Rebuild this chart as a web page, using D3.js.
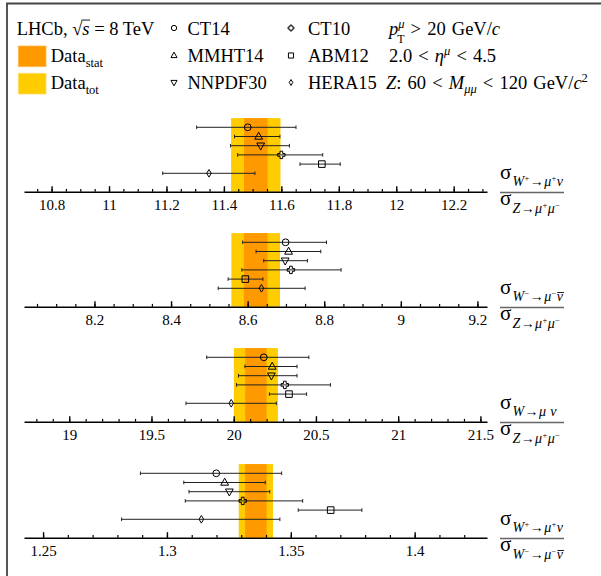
<!DOCTYPE html>
<html>
<head>
<meta charset="utf-8">
<script src="https://cdn.jsdelivr.net/npm/d3@7/dist/d3.min.js"></script>
<style>
  body { margin: 0; background: #fff; }
  svg { display: block; }
  svg text { font-family: "Liberation Serif", "Times New Roman", serif; fill: #000; }
</style>
</head>
<body>
<svg id="chart" width="601" height="576"></svg>
<script>
// ---- PDF sets compared to the measurement (top to bottom in each panel)
const pdfSets = ["CT14", "MMHT14", "NNPDF30", "CT10", "ABM12", "HERA15"];

// ---- Ratio names
const ratios = ["WpZ", "WmZ", "WZ", "WpWm"];

// ---- LHCb measurement: central value, statistical and total uncertainty
const dataCentral = [11.511, 8.621, 20.135, 1.3359];
const dataStat    = [0.041, 0.031, 0.065, 0.00435];
const dataTot     = [0.086, 0.0635, 0.134, 0.0069];

// ---- Theory predictions (central, lower edge, upper edge), order as pdfSets
const thWpZ    = [11.483, 11.521, 11.528, 11.600, 11.741, 11.348];
const thWpZLo  = [11.305, 11.437, 11.423, 11.448, 11.665, 11.187];
const thWpZHi  = [11.651, 11.595, 11.628, 11.744, 11.805, 11.508];

const thWmZ    = [8.699, 8.707, 8.698, 8.713, 8.594, 8.636];
const thWmZLo  = [8.587, 8.622, 8.642, 8.585, 8.549, 8.523];
const thWmZHi  = [8.806, 8.791, 8.756, 8.844, 8.640, 8.750];

const thWZ     = [20.183, 20.234, 20.229, 20.311, 20.336, 19.985];
const thWZLo   = [19.836, 20.068, 20.029, 20.017, 20.217, 19.710];
const thWZHi   = [20.457, 20.385, 20.385, 20.588, 20.443, 20.259];

const thWpWm   = [1.3199, 1.3233, 1.3252, 1.3306, 1.3661, 1.3139];
const thWpWmLo = [1.2893, 1.3068, 1.3089, 1.3074, 1.3530, 1.2817];
const thWpWmHi = [1.3463, 1.3397, 1.3415, 1.3548, 1.3787, 1.3456];

// ---- Axis ranges and labelled ticks
const domainWpZ  = [10.704, 12.316];
const domainWmZ  = [8.016, 9.225];
const domainWZ   = [18.725, 21.540];
const domainWpWm = [1.2423, 1.4292];

const ticksWpZ  = [10.8, 11, 11.2, 11.4, 11.6, 11.8, 12, 12.2];
const ticksWmZ  = [8.2, 8.4, 8.6, 8.8, 9, 9.2];
const ticksWZ   = [19, 19.5, 20, 20.5, 21, 21.5];
const ticksWpWm = [1.25, 1.3, 1.35, 1.4];
const minorSteps = [0.05, 0.05, 0.1, 0.01];

// ---- Text
const legendTitle = [{t: "LHCb, "}, {t: "\u221A"}, {t: "s", it: true, bar: true}, {t: " = 8 TeV"}];
const cutLines = [
  [{t: "p", it: true}, {t: "\u03BC", it: true, size: 12.5, shift: -7}, {t: "T", size: 12, shift: 8.3, dx: -7.4}, {t: " > 20 GeV/"}, {t: "c", it: true}],
  [{t: "2.0 < "}, {t: "\u03B7", it: true}, {t: "\u03BC", it: true, size: 12.5, shift: -7}, {t: " < 4.5"}],
  [{t: "Z", it: true}, {t: ": 60 < "}, {t: "M", it: true}, {t: "\u03BC\u03BC", it: true, size: 12.5, shift: 4}, {t: " < 120 GeV/"}, {t: "c", it: true}, {t: "2", size: 12.5, shift: -7}]
];
const cutX = [389, 389, 386];

const supP = {size: 8.5, shift: -5};
const subWp = [{t: "W", it: true}, Object.assign({t: "+"}, supP), {t: "\u2192"}, {t: "\u03BC", it: true}, Object.assign({t: "+"}, supP), {t: "\u03BD", it: true}];
const subWm = [{t: "W", it: true}, Object.assign({t: "\u2212"}, supP), {t: "\u2192"}, {t: "\u03BC", it: true}, Object.assign({t: "\u2212"}, supP), {t: "\u03BD", it: true, bar: true}];
const subW  = [{t: "W", it: true}, {t: "\u2192"}, {t: "\u03BC", it: true}, {t: " "}, {t: "\u03BD", it: true}];
const subZ  = [{t: "Z", it: true}, {t: "\u2192"}, {t: "\u03BC", it: true}, Object.assign({t: "+"}, supP), {t: "\u03BC", it: true}, Object.assign({t: "\u2212"}, supP)];

const numerators   = [subWp, subWm, subW, subWp];
const denominators = [subZ, subZ, subZ, subWm];

const theory = [
  [thWpZ, thWpZLo, thWpZHi],
  [thWmZ, thWmZLo, thWmZHi],
  [thWZ, thWZLo, thWZHi],
  [thWpWm, thWpWmLo, thWpWmHi]
];
const domains = [domainWpZ, domainWmZ, domainWZ, domainWpWm];
const majorTicks = [ticksWpZ, ticksWmZ, ticksWZ, ticksWpWm];

// ---- Layout
const X0 = 24, X1 = 487;
const axisYs = [191.7, 306.7, 421.7, 537.7];
const bandHeight = 73.6;
const colStat = "#FF9900", colTot = "#FFCC00";
const SERIF = '"Liberation Serif", "Times New Roman", serif';

const svg = d3.select("#chart");

// frame (only its top and left edges fall inside the page)
svg.append("path")
  .attr("d", `M7,576 V3.5 H601`)
  .attr("fill", "none").attr("stroke", "#444").attr("stroke-width", 1.8);

// ---- marker shapes
function markerPath(k, s = 1) {
  const p = (pts) => "M" + pts.map(q => [q[0] * s, q[1] * s].join(",")).join("L") + "Z";
  switch (k) {
    case 0: { const r = 3.4 * s; return `M${-r},0A${r},${r} 0 1,0 ${r},0A${r},${r} 0 1,0 ${-r},0Z`; }
    case 1: return p([[0, -4.3], [3.9, 2.7], [-3.9, 2.7]]);
    case 2: return p([[0, 4.3], [3.9, -2.7], [-3.9, -2.7]]);
    case 3: { const a = 3.7, w = 1.35;
      return p([[-w, -a], [w, -a], [w, -w], [a, -w], [a, w], [w, w], [w, a], [-w, a], [-w, w], [-a, w], [-a, -w], [-w, -w]]); }
    case 4: return p([[-3.3, -3.3], [3.3, -3.3], [3.3, 3.3], [-3.3, 3.3]]);
    case 5: return p([[0, -3.8], [2.3, 0], [0, 3.8], [-2.3, 0]]);
  }
}

// ---- rich text helper: parts flow left to right with baseline shifts
function rich(g, x, y, parts, size, opts = {}) {
  const t = g.append("text").attr("x", x).attr("y", y)
    .style("font-family", SERIF).style("font-size", size + "px")
    .style("white-space", "pre");
  if (opts.spacing) t.style("letter-spacing", opts.spacing + "px");
  if (opts.wordSpacing) t.style("word-spacing", opts.wordSpacing + "px");
  let prev = 0;
  parts.forEach(p => {
    const s = p.shift || 0;
    const ts = t.append("tspan").attr("dy", s - prev).text(p.t);
    if (p.dx) ts.attr("dx", p.dx);
    if (p.size) ts.style("font-size", p.size + "px");
    if (p.it) ts.style("font-style", "italic");
    prev = s;
  });
  // overlines
  const node = t.node();
  let idx = 0;
  parts.forEach(p => {
    if (p.bar) {
      const a = node.getStartPositionOfChar(idx);
      const b = node.getEndPositionOfChar(idx + p.t.length - 1);
      const fs = p.size || size;
      const yy = y + (p.shift || 0) - fs * (opts.barRise || 0.62);
      g.append("line").attr("x1", a.x + (opts.barPadL || 0.5)).attr("x2", b.x + 0.5)
        .attr("y1", yy).attr("y2", yy).attr("stroke", "#000").attr("stroke-width", 0.9);
    }
    idx += p.t.length;
  });
  return t;
}

// ---- legend
const lg = svg.append("g");
rich(lg, 16.7, 34.5, legendTitle, 18.5, {barRise: 0.78, barPadL: -1});
lg.append("rect").attr("x", 18.3).attr("y", 46).attr("width", 27.7).attr("height", 20.7)
  .attr("fill", colStat).attr("stroke", "#FFB84D").attr("stroke-width", 0.8);
lg.append("rect").attr("x", 18.3).attr("y", 73.3).attr("width", 27.7).attr("height", 20.7)
  .attr("fill", colTot).attr("stroke", "#FFDD66").attr("stroke-width", 0.8);
rich(lg, 50.7, 62, [{t: "Data"}, {t: "stat", size: 12.5, shift: 4.5}], 18.5);
rich(lg, 50.7, 89, [{t: "Data"}, {t: "tot", size: 12.5, shift: 4.5}], 18.5);

const legendRows = [34.5, 62, 89];
pdfSets.forEach((name, i) => {
  const col = Math.floor(i / 3), row = i % 3;
  const mx = col === 0 ? 174 : 291;
  const tx = col === 0 ? 187.5 : 308;
  lg.append("path").attr("d", markerPath(i, 0.78))
    .attr("transform", `translate(${mx},${legendRows[row] - 6.5})`)
    .attr("fill", "none").attr("stroke", "#000").attr("stroke-width", 1);
  rich(lg, tx, legendRows[row], [{t: name}], 18.5);
});
cutLines.forEach((parts, r) => {
  rich(lg, cutX[r], legendRows[r], parts, 18.5, {wordSpacing: 1.5});
});

// ---- panels
ratios.forEach((name, pi) => {
  const g = svg.append("g");
  const ay = axisYs[pi];
  const x = d3.scaleLinear().domain(domains[pi]).range([X0, X1]);
  const y = d3.scaleLinear().domain([0, 8]).range([ay, ay - bandHeight]);

  // measurement bands
  const c = dataCentral[pi];
  g.append("rect")
    .attr("x", x(c - dataTot[pi])).attr("width", x(c + dataTot[pi]) - x(c - dataTot[pi]))
    .attr("y", y(8)).attr("height", y(0) - y(8)).attr("fill", colTot);
  g.append("rect")
    .attr("x", x(c - dataStat[pi])).attr("width", x(c + dataStat[pi]) - x(c - dataStat[pi]))
    .attr("y", y(8)).attr("height", y(0) - y(8)).attr("fill", colStat);

  // axis with major and minor ticks pointing up
  const [v, lo, hi] = theory[pi];
  const d = domains[pi], step = minorSteps[pi];
  const minors = d3.range(Math.ceil(d[0] / step - 1e-6), Math.floor(d[1] / step + 1e-6) + 1)
    .map(k => +(k * step).toFixed(6));
  const minorAxis = d3.axisBottom(x).tickValues(minors).tickSize(-2.8).tickFormat("");
  const majorAxis = d3.axisBottom(x).tickValues(majorTicks[pi]).tickSize(-5.5).tickSizeOuter(0)
    .tickPadding(7.5).tickFormat(d3.format("~g"));
  const gm = g.append("g").attr("transform", `translate(0,${ay})`).call(minorAxis);
  gm.select(".domain").remove();
  gm.selectAll("line").attr("stroke", "#000").attr("stroke-width", 1.2);
  const ga = g.append("g").attr("transform", `translate(0,${ay})`).call(majorAxis);
  ga.attr("font-family", null).attr("font-size", null);
  ga.select(".domain").attr("stroke", "#000").attr("stroke-width", 1.6);
  ga.selectAll("line").attr("stroke", "#000").attr("stroke-width", 1.4);
  ga.selectAll("text").style("font-family", SERIF).style("font-size", "15px").attr("fill", "#000");

  // theory predictions
  pdfSets.forEach((s, i) => {
    const yy = y(7 - i);
    const eg = g.append("g").attr("stroke", "#222").attr("stroke-width", 1);
    eg.append("line").attr("x1", x(lo[i])).attr("x2", x(hi[i])).attr("y1", yy).attr("y2", yy);
    eg.append("line").attr("x1", x(lo[i])).attr("x2", x(lo[i])).attr("y1", yy - 1.8).attr("y2", yy + 1.8);
    eg.append("line").attr("x1", x(hi[i])).attr("x2", x(hi[i])).attr("y1", yy - 1.8).attr("y2", yy + 1.8);
    g.append("path").attr("d", markerPath(i))
      .attr("transform", `translate(${x(v[i])},${yy})`)
      .attr("fill", "none").attr("stroke", "#000").attr("stroke-width", 1);
  });

  // ratio label as a fraction
  const fx = 500;
  g.append("line").attr("x1", fx).attr("x2", 564).attr("y1", ay + 0.8).attr("y2", ay + 0.8)
    .attr("stroke", "#666").attr("stroke-width", 1.6);
  rich(g, fx, ay - 12.4, [{t: "\u03C3"}], 21);
  rich(g, fx, ay + 13.6, [{t: "\u03C3"}], 21);
  rich(g, 512.5, ay - 5.5, numerators[pi], 14, {spacing: 0.4});
  rich(g, 512.5, ay + 21.5, denominators[pi], 14, {spacing: 0.4});
});
</script>
</body>
</html>
